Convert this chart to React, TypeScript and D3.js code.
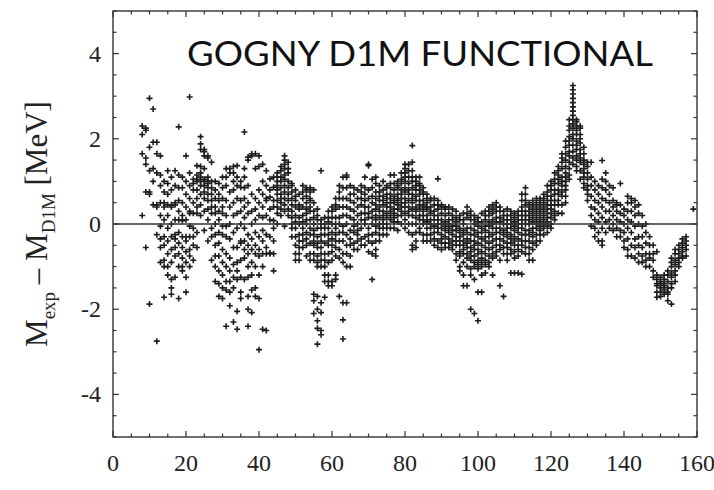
import React from "react";
import * as d3 from "d3";

// Each row: [N, residual values (MeV) read for that neutron number ...]
const residualsN8to30: number[][] = [
  [8, 2.3, 2.1, 1.65, 0.2],
  [9, 2.2, 2.25, 1.55, 1.4, 0.75, -0.55],
  [10, 2.95, 1.8, 1.25, 0.75, 0.7, -1.88],
  [11, 2.7, 1.92, 1.3, 1.0, 0.45],
  [12, 1.92, 1.65, 1.2, 0.45, 0.4, -0.25, -2.75],
  [13, 1.6, 1.15, 0.9, 0.5, 0.2, -0.05, -0.35, -0.55, -0.9],
  [14, 1.0, 0.75, 0.5, 0.4, 0.1, -0.3, -0.5, -0.85, -1.0, -1.72],
  [15, 1.25, 0.95, 0.7, 0.45, 0.2, -0.1, -0.4, -0.7, -1.0, -1.2],
  [16, 1.1, 0.8, 0.45, 0.4, 0.0, -0.3, -0.6, -0.9, -1.3, -1.5, -1.65],
  [17, 1.25, 0.9, 0.5, 0.45, 0.1, -0.25, -0.35, -0.55, -0.75, -1.25],
  [18, 2.28, 1.15, 0.85, 0.55, 0.3, 0.1, -0.2, -0.45, -0.7, -1.0, -1.75],
  [19, 1.1, 0.85, 0.5, 0.2, 0.08, -0.3, -0.55, -0.8, -1.0, -1.1],
  [20, 1.6, 1.0, 0.7, 0.4, 0.1, -0.3, -0.4, -0.65, -0.9, -1.25, -1.6],
  [21, 2.98, 1.2, 0.9, 0.6, 0.3, 0.25, -0.05, -0.3, -0.6, -0.75, -1.0],
  [22, 1.05, 0.95, 0.8, 0.5, 0.25, -0.1, -0.3, -0.5, -0.85],
  [23, 1.37, 1.15, 1.05, 1.0, 0.8, 0.6, 0.4, 0.25, -0.2, -0.55],
  [24, 2.05, 1.88, 1.75, 1.35, 1.2, 1.1, 1.0, 0.9, 0.7, 0.45, 0.2],
  [25, 1.75, 1.7, 1.6, 1.3, 1.05, 1.0, 0.9, 0.75, 0.6, 0.3, -0.15],
  [26, 1.6, 1.55, 1.1, 1.0, 0.95, 0.85, 0.7, 0.55, 0.35, 0.1, -0.4],
  [27, 1.45, 1.0, 0.85, 0.7, 0.55, 0.4, 0.25, -0.1, -0.3, -0.85],
  [28, 1.0, 0.8, 0.6, 0.4, 0.25, 0.0, -0.25, -0.5, -0.75, -1.0, -1.35],
  [29, 0.95, 0.7, 0.55, 0.3, 0.1, -0.2, -0.45, -0.75, -1.1, -1.4, -1.7],
  [30, 1.1, 0.85, 0.6, 0.4, 0.25, -0.05, -0.25, -0.6, -0.9, -1.2, -1.5, -1.75],
];

const residualsN31to60: number[][] = [
  [31, 1.3, 1.1, 0.9, 0.55, 0.2, -0.05, -0.3, -0.7, -1.0, -1.35, -1.55, -2.4],
  [32, 1.3, 1.2, 0.75, 0.4, 0.0, -0.35, -0.8, -1.1, -1.35, -1.6, -1.92],
  [33, 1.35, 1.2, 1.0, 0.8, 0.5, 0.2, -0.2, -0.55, -0.95, -1.25, -1.5, -2.3],
  [34, 1.37, 1.1, 0.9, 0.6, 0.25, -0.1, -0.55, -0.9, -1.1, -1.3, -2.05, -2.47],
  [35, 1.0, 0.86, 0.55, 0.3, 0.0, -0.4, -0.45, -0.85, -1.25, -1.6, -1.75],
  [36, 2.16, 1.3, 1.1, 0.85, 0.6, 0.4, 0.15, -0.1, -0.4, -0.6, -0.8, -1.3],
  [37, 1.57, 1.5, 0.9, 0.5, 0.25, -0.25, -0.5, -0.7, -1.0, -1.25, -1.7, -2.0, -2.4],
  [38, 1.65, 1.6, 0.7, 0.3, 0.0, -0.35, -0.6, -0.9, -1.2, -1.55, -2.08],
  [39, 1.65, 1.3, 0.6, 0.35, 0.1, -0.2, -0.5, -0.7, -1.0, -1.5, -1.7],
  [40, 1.6, 1.35, 0.8, 0.5, 0.2, -0.3, -0.6, -0.75, -1.2, -1.75, -2.95],
  [41, 1.4, 1.0, 0.7, 0.4, 0.15, -0.15, -0.4, -0.7, -1.0, -2.47],
  [42, 1.25, 0.9, 0.6, 0.55, 0.2, -0.25, -0.55, -0.7, -2.5],
  [43, 1.06, 0.8, 0.63, 0.35, 0.1, -0.3, -0.68, -0.7],
  [44, 1.1, 0.86, 0.55, 0.4, 0.08, -0.1, -0.4, -0.7, -1.1],
  [45, 1.2, 1.1, 1.0, 0.9, 0.8, 0.7, 0.55, 0.4, 0.25, 0.0],
  [46, 1.35, 1.25, 1.1, 1.0, 0.85, 0.7, 0.6, 0.5, 0.35, 0.2],
  [47, 1.6, 1.5, 1.4, 1.3, 1.15, 1.05, 0.9, 0.75, 0.6, 0.45, 0.3, -0.05],
  [48, 1.45, 1.3, 1.2, 1.0, 0.85, 0.7, 0.55, 0.35, 0.2],
  [49, 0.95, 0.9, 0.75, 0.6, 0.45, 0.3, 0.15, 0.0, -0.1, -0.3],
  [50, 0.8, 0.65, 0.55, 0.4, 0.2, 0.05, -0.1, -0.3, -0.5, -0.7, -0.85],
  [51, 0.7, 0.45, 0.35, 0.15, 0.0, -0.25, -0.4, -0.55, -0.7, -0.85],
  [52, 0.9, 0.75, 0.6, 0.4, 0.2, 0.05, -0.1, -0.25, -0.4, -0.55],
  [53, 0.85, 0.8, 0.65, 0.5, 0.35, 0.25, 0.1, 0.0, -0.2, -0.35, -0.5, -0.75],
  [54, 0.85, 0.75, 0.6, 0.55, 0.4, 0.3, 0.1, -0.1, -0.25, -0.45, -0.7, -0.85],
  [55, 0.8, 0.5, 0.3, 0.15, 0.0, -0.15, -0.25, -0.4, -0.5, -0.7, -0.85, -1.65, -1.8, -2.1],
  [56, 0.35, 0.2, 0.1, -0.1, -0.3, -0.45, -0.55, -0.75, -0.9, -1.0, -1.7, -2.0, -2.27, -2.45, -2.82],
  [57, 1.25, 0.1, 0.0, -0.1, -0.25, -0.4, -0.55, -0.7, -0.85, -1.0, -1.85, -2.08, -2.5, -2.6],
  [58, 0.15, 0.0, -0.1, -0.25, -0.45, -0.7, -0.85, -1.0, -1.2, -1.35, -1.72],
  [59, 0.3, 0.15, 0.05, -0.1, -0.25, -0.4, -0.5, -0.7, -0.9, -1.2, -1.35, -1.45],
  [60, 0.4, 0.3, 0.15, 0.0, -0.2, -0.35, -0.5, -0.65, -0.85, -1.35, -1.45],
];

const residualsN61to95: number[][] = [
  [61, 0.6, 0.45, 0.35, 0.15, 0.0, -0.1, -0.25, -0.4, -0.55, -0.75, -1.2, -1.3],
  [62, 0.9, 0.75, 0.6, 0.4, 0.15, 0.0, -0.2, -0.4, -0.6, -0.8, -1.7],
  [63, 1.1, 0.85, 0.6, 0.4, 0.2, -0.05, -0.2, -0.4, -0.7, -0.9, -1.85, -2.25, -2.7],
  [64, 1.15, 1.1, 0.85, 0.6, 0.4, 0.2, 0.0, -0.25, -0.5, -0.7, -1.0, -1.85],
  [65, 0.9, 0.7, 0.55, 0.35, 0.15, -0.15, -0.35, -0.5, -0.75, -1.0],
  [66, 0.85, 0.7, 0.5, 0.3, 0.1, -0.05, -0.2, -0.45, -0.6],
  [67, 0.8, 0.6, 0.4, 0.2, 0.0, -0.15, -0.25, -0.4, -0.6],
  [68, 0.9, 0.75, 0.6, 0.45, 0.25, 0.1, -0.1, -0.35, -0.5],
  [69, 1.1, 0.85, 0.7, 0.55, 0.4, 0.25, 0.1, 0.0, -0.3, -0.5],
  [70, 1.4, 1.37, 0.8, 0.6, 0.4, 0.25, 0.15, -0.1, -0.25, -0.4, -0.65],
  [71, 1.05, 0.85, 0.65, 0.5, 0.3, 0.15, 0.0, -0.25, -0.45, -0.7, -1.3],
  [72, 1.1, 0.95, 0.75, 0.6, 0.45, 0.35, 0.2, 0.1, -0.05, -0.2, -0.4, -0.6, -0.75],
  [73, 0.9, 0.75, 0.65, 0.55, 0.4, 0.3, 0.15, 0.0, -0.1, -0.25, -0.4],
  [74, 1.0, 0.8, 0.65, 0.55, 0.45, 0.3, 0.2, 0.1, 0.0, -0.1, -0.25],
  [75, 0.9, 0.85, 0.7, 0.6, 0.5, 0.4, 0.25, 0.15, 0.0, -0.1, -0.25],
  [76, 1.15, 0.95, 0.85, 0.7, 0.6, 0.5, 0.4, 0.3, 0.2, 0.1, -0.1],
  [77, 1.15, 0.95, 0.8, 0.65, 0.55, 0.5, 0.35, 0.25, 0.15, 0.05, -0.1],
  [78, 1.0, 0.9, 0.85, 0.7, 0.6, 0.55, 0.45, 0.35, 0.2, 0.05, -0.15],
  [79, 1.2, 1.05, 0.95, 0.8, 0.7, 0.6, 0.5, 0.4, 0.3, 0.2, 0.0],
  [80, 1.4, 1.3, 1.2, 1.1, 1.0, 0.85, 0.75, 0.6, 0.5, 0.4, 0.25, 0.1, -0.1],
  [81, 1.4, 1.25, 1.1, 0.95, 0.8, 0.7, 0.55, 0.4, 0.3, 0.2, 0.0, -0.2],
  [82, 1.84, 1.45, 1.25, 1.1, 1.0, 0.85, 0.7, 0.6, 0.5, 0.35, 0.2, 0.0, -0.25, -0.5, -0.6],
  [83, 1.1, 1.0, 0.9, 0.8, 0.65, 0.55, 0.4, 0.3, 0.15, 0.0, -0.2, -0.4, -0.55],
  [84, 1.1, 0.95, 0.9, 0.8, 0.7, 0.55, 0.45, 0.35, 0.2, 0.1, -0.1, -0.2],
  [85, 0.85, 0.75, 0.7, 0.55, 0.45, 0.4, 0.3, 0.2, 0.1, 0.0, -0.25, -0.4],
  [86, 0.7, 0.6, 0.5, 0.4, 0.35, 0.2, 0.1, 0.05, -0.1, -0.25, -0.4],
  [87, 0.6, 0.55, 0.4, 0.3, 0.25, 0.1, 0.0, -0.1, -0.25, -0.4],
  [88, 0.6, 0.45, 0.3, 0.2, 0.1, -0.05, -0.2, -0.35, -0.5],
  [89, 1.06, 0.55, 0.45, 0.35, 0.2, 0.1, 0.0, -0.1, -0.2, -0.4, -0.55],
  [90, 0.45, 0.4, 0.25, 0.1, 0.0, -0.1, -0.25, -0.35, -0.45, -0.6],
  [91, 0.4, 0.35, 0.2, 0.05, -0.05, -0.15, -0.3, -0.45, -0.55],
  [92, 0.4, 0.25, 0.1, 0.0, -0.1, -0.2, -0.35, -0.45, -0.55],
  [93, 0.35, 0.2, 0.1, -0.05, -0.15, -0.25, -0.4, -0.5, -0.6],
  [94, 0.3, 0.15, 0.05, -0.05, -0.15, -0.3, -0.4, -0.5, -0.7, -0.85],
  [95, 0.2, 0.1, -0.1, -0.2, -0.3, -0.4, -0.5, -0.65, -0.75, -1.0, -1.1],
];

const residualsN96to125: number[][] = [
  [96, 0.25, 0.1, 0.0, -0.15, -0.25, -0.4, -0.5, -0.6, -0.7, -0.9, -1.2, -1.45],
  [97, 0.4, 0.25, 0.15, -0.1, -0.2, -0.35, -0.45, -0.55, -0.7, -0.8, -1.0, -1.45],
  [98, 0.3, 0.2, 0.1, -0.1, -0.25, -0.4, -0.55, -0.65, -0.75, -0.85, -1.05, -1.2, -2.0],
  [99, 0.2, 0.1, 0.0, -0.15, -0.25, -0.4, -0.5, -0.6, -0.75, -0.9, -1.0, -1.3, -2.1],
  [100, 0.15, 0.05, -0.05, -0.2, -0.3, -0.45, -0.6, -0.7, -0.85, -0.95, -1.05, -1.6, -2.27],
  [101, 0.25, 0.05, -0.1, -0.2, -0.35, -0.5, -0.65, -0.8, -0.9, -1.0, -1.2, -1.6],
  [102, 0.3, 0.2, 0.1, -0.05, -0.15, -0.3, -0.4, -0.55, -0.7, -0.85, -0.95, -1.15],
  [103, 0.4, 0.3, 0.2, 0.05, -0.05, -0.2, -0.3, -0.45, -0.6, -0.75, -0.9, -1.0],
  [104, 0.45, 0.35, 0.25, 0.1, 0.0, -0.1, -0.25, -0.4, -0.55, -0.7, -0.8, -1.2],
  [105, 0.5, 0.4, 0.3, 0.15, 0.05, -0.1, -0.2, -0.35, -0.5, -0.65, -0.75],
  [106, 0.4, 0.3, 0.15, 0.05, -0.1, -0.2, -0.35, -0.5, -0.6, -0.85, -1.45],
  [107, 0.3, 0.2, 0.1, 0.0, -0.15, -0.25, -0.4, -0.55, -0.7, -1.7],
  [108, 0.35, 0.2, 0.1, 0.0, -0.1, -0.2, -0.3, -0.45, -0.55, -0.7, -0.85],
  [109, 0.3, 0.2, 0.1, 0.0, -0.1, -0.25, -0.35, -0.45, -0.6, -0.7, -1.15],
  [110, 0.25, 0.15, 0.05, -0.05, -0.15, -0.3, -0.4, -0.5, -0.65, -0.8, -1.15],
  [111, 0.3, 0.2, 0.1, 0.0, -0.1, -0.2, -0.35, -0.5, -0.6, -0.75, -1.15],
  [112, 0.7, 0.55, 0.4, 0.3, 0.2, 0.1, 0.0, -0.1, -0.25, -0.4, -0.5, -0.65, -1.18],
  [113, 0.85, 0.7, 0.55, 0.45, 0.3, 0.2, 0.1, 0.0, -0.15, -0.25, -0.4, -0.55, -0.7],
  [114, 0.5, 0.4, 0.3, 0.2, 0.1, 0.0, -0.15, -0.25, -0.4, -0.55, -0.7, -0.85],
  [115, 0.55, 0.45, 0.35, 0.25, 0.15, 0.05, -0.1, -0.2, -0.3, -0.45, -0.6, -0.85],
  [116, 0.6, 0.5, 0.4, 0.3, 0.2, 0.1, 0.0, -0.1, -0.25, -0.4, -0.5],
  [117, 0.6, 0.55, 0.45, 0.35, 0.25, 0.15, 0.05, -0.05, -0.15, -0.25, -0.4],
  [118, 0.7, 0.6, 0.5, 0.4, 0.3, 0.2, 0.1, 0.0, -0.1, -0.25],
  [119, 0.9, 0.75, 0.65, 0.55, 0.45, 0.35, 0.25, 0.15, 0.05, -0.05, -0.2],
  [120, 1.0, 0.9, 0.8, 0.65, 0.55, 0.45, 0.35, 0.25, 0.15, 0.0, -0.1],
  [121, 1.2, 1.05, 0.95, 0.8, 0.7, 0.55, 0.45, 0.3, 0.2, 0.1],
  [122, 1.35, 1.25, 1.15, 1.05, 0.95, 0.8, 0.7, 0.55, 0.45, 0.25],
  [123, 1.65, 1.55, 1.45, 1.3, 1.1, 1.0, 0.9, 0.75, 0.65, 0.45, 0.25],
  [124, 1.95, 1.8, 1.65, 1.5, 1.35, 1.2, 1.1, 1.0, 0.9, 0.8, 0.65, 0.5],
  [125, 2.45, 2.3, 2.2, 2.05, 1.95, 1.85, 1.7, 1.6, 1.45, 1.3, 1.15, 1.05],
];

const residualsN126to159: number[][] = [
  [126, 3.25, 3.15, 3.05, 2.95, 2.85, 2.75, 2.65, 2.55, 2.45, 2.35, 2.25, 2.1, 2.0, 1.85, 1.7, 1.55, 1.4],
  [127, 2.45, 2.4, 2.3, 2.2, 2.1, 1.95, 1.85, 1.75, 1.6, 1.5, 1.35, 1.25],
  [128, 2.3, 2.25, 2.1, 2.0, 1.9, 1.75, 1.65, 1.55, 1.45, 1.25, 1.05],
  [129, 1.8, 1.65, 1.5, 1.4, 1.3, 1.2, 1.1, 0.95, 0.85],
  [130, 1.45, 1.35, 1.2, 1.05, 0.9, 0.8, 0.7, 0.55],
  [131, 1.45, 1.1, 0.9, 0.65, 0.4, 0.2, -0.05],
  [132, 1.0, 0.8, 0.55, 0.35, 0.1, -0.1, -0.3],
  [133, 0.9, 0.7, 0.5, 0.25, 0.05, -0.2, -0.4],
  [134, 1.49, 1.05, 0.85, 0.6, 0.4, 0.15, -0.1, -0.4, -0.5],
  [135, 1.2, 1.0, 0.8, 0.55, 0.3, 0.05, -0.2],
  [136, 0.9, 0.7, 0.5, 0.3, 0.1, -0.1],
  [137, 0.85, 0.55, 0.4, 0.2, 0.0, -0.15],
  [138, 0.5, 0.45, 0.3, 0.1, -0.1, -0.3],
  [139, 0.95, 0.45, 0.25, 0.05, -0.15, -0.3],
  [140, 0.35, 0.2, 0.0, -0.2, -0.4, -0.55],
  [141, 0.65, 0.5, 0.3, 0.1, -0.1, -0.35, -0.6, -0.75],
  [142, 0.6, 0.5, 0.3, 0.05, -0.2, -0.5, -0.75],
  [143, 0.55, 0.4, 0.2, -0.05, -0.35, -0.55, -0.8],
  [144, 0.45, 0.25, 0.0, -0.3, -0.5, -0.7, -0.9],
  [145, 0.2, -0.05, -0.3, -0.55, -0.75, -0.9],
  [146, 0.0, -0.2, -0.45, -0.7, -0.85, -1.0],
  [147, -0.3, -0.5, -0.7, -0.8, -1.0],
  [148, -0.5, -0.7, -0.85, -1.1, -1.25],
  [149, -0.65, -1.2, -1.3, -1.4, -1.45, -1.6, -1.72],
  [150, -1.25, -1.35, -1.4, -1.5, -1.6, -1.7],
  [151, -1.2, -1.3, -1.4, -1.45, -1.55, -1.65],
  [152, -1.1, -1.2, -1.35, -1.5, -1.6, -1.65, -1.8],
  [153, -0.8, -0.9, -1.0, -1.15, -1.25, -1.4, -1.5, -1.88],
  [154, -0.6, -0.7, -0.85, -0.95, -1.1, -1.2, -1.35],
  [155, -0.5, -0.6, -0.7, -0.8, -0.9, -1.0],
  [156, -0.35, -0.45, -0.55, -0.65, -0.75, -0.8],
  [157, -0.3, -0.4, -0.5, -0.6, -0.75],
  [159, 0.35],
];

const xTickLabels = [0, 20, 40, 60, 80, 100, 120, 140, 160];
const yTickLabels = [-4, -2, 0, 2, 4];
const xDomain = [0, 160];
const yDomain = [-5, 5];
const titleText = "GOGNY D1M FUNCTIONAL";

const W = 714;
const H = 490;
const M = { left: 113, right: 697, top: 11, bottom: 437 };

export default function App() {
  const x = d3.scaleLinear().domain(xDomain).range([M.left, M.right]);
  const y = d3.scaleLinear().domain(yDomain).range([M.bottom, M.top]);

  const rows = [
    ...residualsN8to30,
    ...residualsN31to60,
    ...residualsN61to95,
    ...residualsN96to125,
    ...residualsN126to159,
  ];
  const points: { n: number; v: number }[] = [];
  rows.forEach((r) => {
    const n = r[0];
    r.slice(1).forEach((v) => points.push({ n, v }));
  });

  const xMinor = d3.range(xDomain[0], xDomain[1] + 0.001, 5);
  const yMinor = d3.range(yDomain[0], yDomain[1] + 0.001, 0.5);
  const ink = "#1c1c1c";
  const a = 3;

  return (
    <svg
      width={W}
      height={H}
      style={{ position: "absolute", left: 0, top: 0, background: "#fff" }}
    >
      <rect x={0} y={0} width={W} height={H} fill="#fff" />
      <g stroke={ink} strokeWidth={1.6}>
        {points.map((p, i) => {
          const px = x(p.n);
          const py = y(p.v);
          return (
            <path
              key={i}
              d={`M${px - a},${py}H${px + a}M${px},${py - a}V${py + a}`}
            />
          );
        })}
      </g>
      <line x1={x(xDomain[0])} x2={x(xDomain[1])} y1={y(0)} y2={y(0)} stroke="#333" strokeWidth={1.5} />
      <rect
        x={M.left}
        y={M.top}
        width={M.right - M.left}
        height={M.bottom - M.top}
        fill="none"
        stroke="#333"
        strokeWidth={1.4}
      />
      <g stroke="#333" strokeWidth={1.2}>
        {xMinor.map((t) => {
          const len = t % 20 === 0 ? 6 : 3.5;
          return (
            <g key={"xt" + t}>
              <line x1={x(t)} x2={x(t)} y1={M.bottom} y2={M.bottom - len} />
              <line x1={x(t)} x2={x(t)} y1={M.top} y2={M.top + len} />
            </g>
          );
        })}
        {yMinor.map((t) => {
          const len = Math.abs(t % 2) < 1e-6 ? 6 : 3.5;
          return (
            <g key={"yt" + t}>
              <line x1={M.left} x2={M.left + len} y1={y(t)} y2={y(t)} />
              <line x1={M.right} x2={M.right - len} y1={y(t)} y2={y(t)} />
            </g>
          );
        })}
      </g>
      <g fontFamily="'Liberation Serif', 'DejaVu Serif', serif" fontSize={24} fill="#222">
        {xTickLabels.map((t) => (
          <text key={"xl" + t} x={x(t)} y={471} textAnchor="middle">
            {t}
          </text>
        ))}
        {yTickLabels.map((t) => (
          <text key={"yl" + t} x={101} y={y(t) + 8} textAnchor="end">
            {t}
          </text>
        ))}
      </g>
      <text
        x={187}
        y={66}
        fontFamily="Lato, 'Open Sans', sans-serif"
        fontSize={35}
        textLength={466}
        lengthAdjust="spacingAndGlyphs"
        fill="#111"
      >
        {titleText}
      </text>
      <text
        transform={`translate(47,${(M.top + M.bottom) / 2}) rotate(-90)`}
        textAnchor="middle"
        fontFamily="'Liberation Serif', 'DejaVu Serif', serif"
        fontSize={31}
        fill="#222"
      >
        M
        <tspan fontSize={19} dy={8}>exp</tspan>
        <tspan dy={-8}> – M</tspan>
        <tspan fontSize={19} dy={8}>D1M</tspan>
        <tspan dy={-8}> [MeV]</tspan>
      </text>
    </svg>
  );
}
